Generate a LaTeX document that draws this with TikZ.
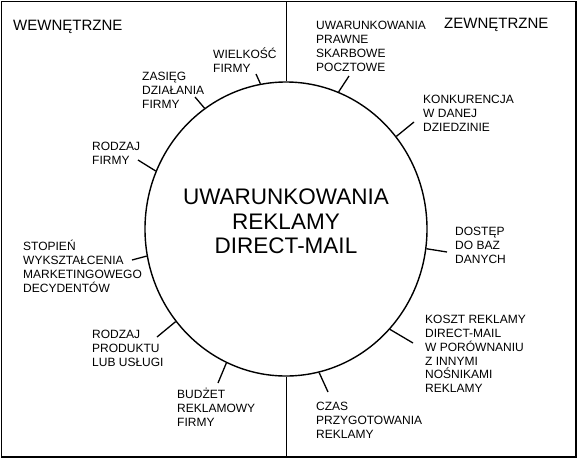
\documentclass[tikz,border=0pt]{standalone}
\usepackage{fontspec}
\setmainfont{Liberation Sans}
\usetikzlibrary{shapes.geometric}
\begin{document}
\begin{tikzpicture}[x=1pt,y=-1pt,
  lbl/.style={anchor=north west,inner sep=0pt,align=left,font=\fontsize{12}{13.7}\selectfont},
  hdr/.style={anchor=west,inner sep=0pt,font=\fontsize{15}{18}\selectfont,text height=10.7pt,text depth=0pt},
  tickline/.style={line width=1.3pt},
  thinframe/.style={line width=1pt},
  thickframe/.style={line width=2pt},
  ring/.style={draw,ellipse,line width=1.4pt,minimum width=282pt,minimum height=294pt,inner sep=0pt}]
\useasboundingbox (0,0) rectangle (578,459);
% frame
\coordinate (tl) at (1,1);
\coordinate (tr) at (575.5,1);
\coordinate (br) at (575.5,456.5);
\coordinate (bl) at (1,456.5);
\draw[thinframe] (bl) -- (tl) -- (tr);
\draw[thickframe] (tr) -- (br) -- (bl);
% circle
\node[ring] (circ) at (286,229) {};
% divider
\coordinate (dtop) at (286,1);
\coordinate (dbot) at (286,456.5);
\draw[thinframe] (dtop) -- (circ.north);
\draw[thinframe] (circ.south) -- (dbot);
% headers
\node[hdr] (wew) at (13,25) {WEWNĘTRZNE};
\node[hdr] (zew) at (444,23) {ZEWNĘTRZNE};
% centre
\node[align=center,inner sep=0pt,font=\fontsize{22.5}{24.5}\selectfont] (title) at (286,221.3)
  {UWARUNKOWANIA\\REKLAMY\\DIRECT-MAIL};
% labels
\node[lbl] (l1) at (213,48) {\vphantom{Ś}WIELKOŚĆ\\FIRMY};
\node[lbl] (l2) at (142,70) {\vphantom{Ś}ZASIĘG\\DZIAŁANIA\\FIRMY};
\node[lbl] (l3) at (92,140) {\vphantom{Ś}RODZAJ\\FIRMY};
\node[lbl] (l4) at (23,240) {\vphantom{Ś}STOPIEŃ\\WYKSZTAŁCENIA\\MARKETINGOWEGO\\DECYDENTÓW};
\node[lbl] (l5) at (92,328) {\vphantom{Ś}RODZAJ\\PRODUKTU\\LUB USŁUGI};
\node[lbl] (l6) at (177,388) {\vphantom{Ś}BUDŻET\\REKLAMOWY\\FIRMY};
\node[lbl] (l7) at (316,400) {\vphantom{Ś}CZAS\\PRZYGOTOWANIA\\REKLAMY};
\node[lbl] (l8) at (425,313) {\vphantom{Ś}KOSZT REKLAMY\\DIRECT-MAIL\\W PORÓWNANIU\\Z INNYMI\\NOŚNIKAMI\\REKLAMY};
\node[lbl] (l9) at (455,225) {\vphantom{Ś}DOSTĘP\\DO BAZ\\DANYCH};
\node[lbl] (l10) at (423,93) {\vphantom{Ś}KONKURENCJA\\W DANEJ\\DZIEDZINIE};
\node[lbl] (l11) at (316,19) {\vphantom{Ś}UWARUNKOWANIA\\PRAWNE\\SKARBOWE\\POCZTOWE};
% tick ends
\coordinate (t1) at (256,74);
\coordinate (t2) at (195,97);
\coordinate (t3) at (138,160);
\coordinate (t4) at (132,260);
\coordinate (t5) at (157,337);
\coordinate (t6) at (218,383);
\coordinate (t7) at (328,392);
\coordinate (t8) at (413,343);
\coordinate (t9) at (447,252);
\coordinate (t10) at (414,122);
\coordinate (t11) at (349,76);
\draw[tickline] (t1) -- (circ.100.9);
\draw[tickline] (t2) -- (circ.124.4);
\draw[tickline] (t3) -- (circ.156.2);
\draw[tickline] (t4) -- (circ.191.8);
\draw[tickline] (t5) -- (circ.220.5);
\draw[tickline] (t6) -- (circ.246.2);
\draw[tickline] (t7) -- (circ.283.1);
\draw[tickline] (t8) -- (circ.316.9);
\draw[tickline] (t9) -- (circ.352.8);
\draw[tickline] (t10) -- (circ.40.0);
\draw[tickline] (t11) -- (circ.69.5);
\end{tikzpicture}
\end{document}
